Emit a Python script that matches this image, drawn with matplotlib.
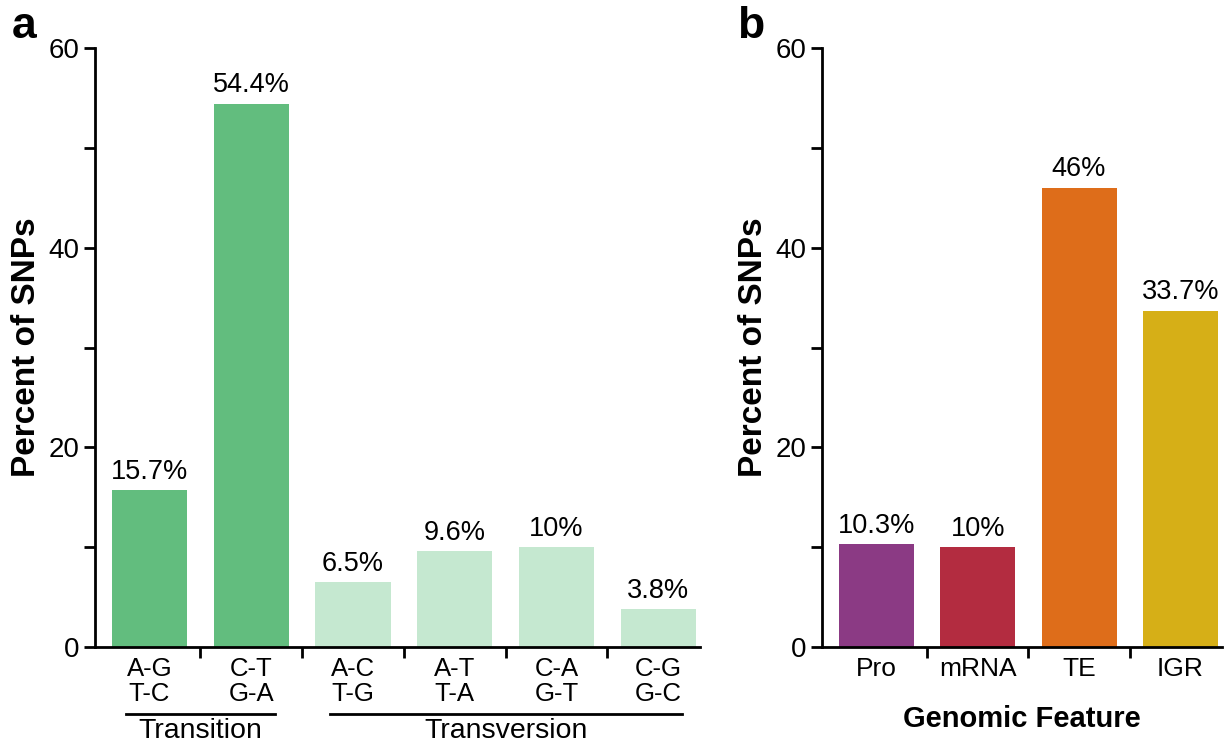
import matplotlib
matplotlib.use('Agg')
import matplotlib.pyplot as plt
import matplotlib.transforms as mtransforms

plt.rcParams['font.family'] = ['Liberation Sans', 'DejaVu Sans']

# panel a data
subs = ['A-G\nT-C', 'C-T\nG-A', 'A-C\nT-G', 'A-T\nT-A', 'C-A\nG-T', 'C-G\nG-C']
sub_pct = [15.7, 54.4, 6.5, 9.6, 10.0, 3.8]
sub_labels = ['15.7%', '54.4%', '6.5%', '9.6%', '10%', '3.8%']
sub_colors = ['#62bd7e', '#62bd7e', '#c5e8d0', '#c5e8d0', '#c5e8d0', '#c5e8d0']
groups = [('Transition', 0, 1), ('Transversion', 2, 5)]

# panel b data
feats = ['Pro', 'mRNA', 'TE', 'IGR']
feat_pct = [10.3, 10.0, 46.0, 33.7]
feat_labels = ['10.3%', '10%', '46%', '33.7%']
feat_colors = ['#8b3a84', '#b32c40', '#de6d1a', '#d6af17']

fig = plt.figure(figsize=(12.25, 7.48), dpi=100)
ax1 = fig.add_axes([95/1225, 101/748, 605/1225, 599/748])
ax2 = fig.add_axes([822/1225, 101/748, 400/1225, 599/748])


def style(ax, n):
    ax.set_ylim(0, 60)
    ax.set_xlim(-0.535, n - 1 + 0.41)
    for s in ['top', 'right']:
        ax.spines[s].set_visible(False)
    for s in ['left', 'bottom']:
        ax.spines[s].set_linewidth(2)
    ax.set_yticks([0, 20, 40, 60])
    ax.set_yticks([10, 30, 50], minor=True)
    ax.tick_params(axis='y', which='both', width=2, length=8, labelsize=20, pad=3)
    # ticks between bars, labels under bars
    ax.set_xticks([i + 0.5 for i in range(n - 1)])
    ax.set_xticklabels([])
    ax.tick_params(axis='x', width=2, length=8)
    ax.set_ylabel('Percent of SNPs', fontsize=24, fontweight='bold', labelpad=5)


x1 = list(range(len(subs)))
bars1 = ax1.bar(x1, sub_pct, width=0.74, color=sub_colors)
ax1.bar_label(bars1, labels=sub_labels, padding=4, fontsize=19.5)
style(ax1, len(subs))
trans1 = mtransforms.blended_transform_factory(ax1.transData, ax1.transAxes)
for i, s in enumerate(subs):
    ax1.text(i, -0.016, s, transform=trans1, ha='center', va='top',
             fontsize=18.5, linespacing=1.05)
for name, a, b in groups:
    ax1.plot([a - 0.23, b + 0.23], [-0.112, -0.112], color='black', lw=2,
             transform=trans1, clip_on=False)
    ax1.text((a + b) / 2, -0.118, name, transform=trans1, ha='center', va='top',
             fontsize=20.5)

x2 = list(range(len(feats)))
bars2 = ax2.bar(x2, feat_pct, width=0.74, color=feat_colors)
ax2.bar_label(bars2, labels=feat_labels, padding=4, fontsize=19.5)
style(ax2, len(feats))
trans2 = mtransforms.blended_transform_factory(ax2.transData, ax2.transAxes)
for i, s in enumerate(feats):
    ax2.text(i, -0.017, s, transform=trans2, ha='center', va='top', fontsize=19)
ax2.text(0.5, -0.097, 'Genomic Feature', transform=ax2.transAxes, ha='center',
         va='top', fontsize=21, fontweight='bold')

fig.text(12/1225, 1 - 6/748, 'a', fontsize=32, fontweight='bold', va='top')
fig.text(737/1225, 1 - 6/748, 'b', fontsize=32, fontweight='bold', va='top')

fig.savefig('out.png', dpi=100)
